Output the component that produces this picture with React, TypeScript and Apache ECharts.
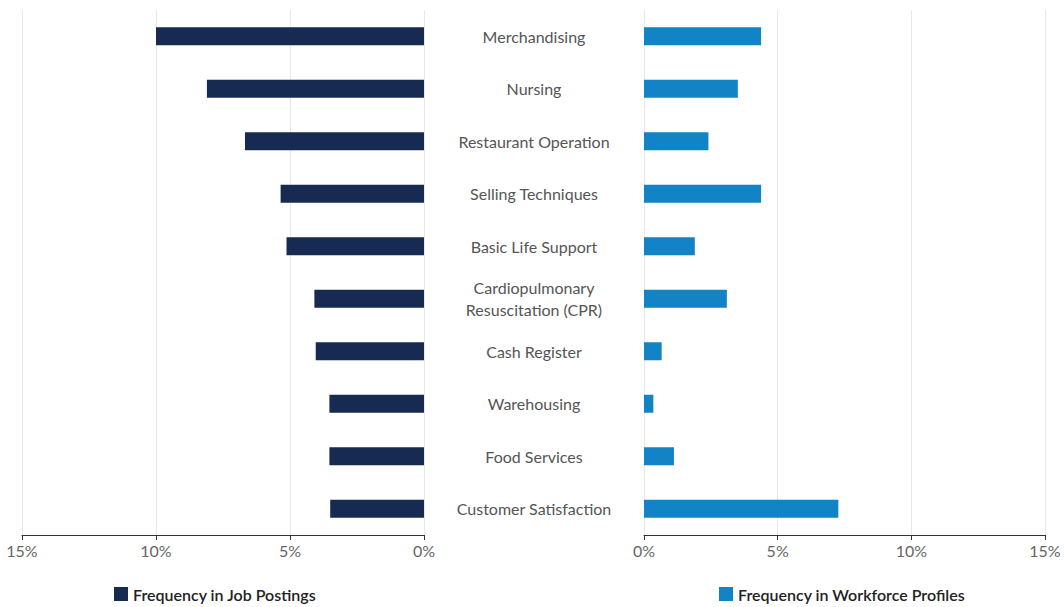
import React, { useEffect, useRef } from "react";
import * as echarts from "echarts";

const categories = [
  "Merchandising",
  "Nursing",
  "Restaurant Operation",
  "Selling Techniques",
  "Basic Life Support",
  "Cardiopulmonary\nResuscitation (CPR)",
  "Cash Register",
  "Warehousing",
  "Food Services",
  "Customer Satisfaction",
];
const jobPostings = [10.0, 8.1, 6.68, 5.35, 5.13, 4.09, 4.04, 3.53, 3.53, 3.5];
const workforceProfiles = [4.38, 3.51, 2.41, 4.38, 1.9, 3.1, 0.66, 0.35, 1.12, 7.27];
const xTicks = { min: 0, max: 15, interval: 5 };
const seriesNames = ["Frequency in Job Postings", "Frequency in Workforce Profiles"];

const FONT = "Lato, 'Open Sans', sans-serif";

export default function App() {
  const ref = useRef<HTMLDivElement>(null);
  useEffect(() => {
    document.body.style.margin = "0";
    const chart = echarts.init(ref.current!, null, { renderer: "svg" });
    const axisCommon = {
      type: "value",
      min: xTicks.min,
      max: xTicks.max,
      interval: xTicks.interval,
      axisLine: { show: true, lineStyle: { color: "#333", width: 1 } },
      axisTick: { show: true, length: 5, lineStyle: { color: "#333" } },
      axisLabel: {
        formatter: "{value}%",
        color: "#666",
        fontSize: 16,
        fontFamily: FONT,
        margin: 7,
      },
      splitLine: { show: true, lineStyle: { color: "#e8e8e8", width: 1 } },
    };
    const legendText = { color: "#222", fontSize: 16, fontWeight: 600, fontFamily: FONT };
    chart.setOption({
      animation: false,
      textStyle: { fontFamily: FONT },
      grid: [
        { left: 22, width: 402, top: 10, bottom: 72 },
        { left: 644, width: 401, top: 10, bottom: 72 },
      ],
      legend: [
        {
          data: [seriesNames[0]],
          left: 114,
          top: 586,
          padding: 0,
          icon: "rect",
          itemWidth: 14,
          itemHeight: 14,
          itemGap: 8,
          textStyle: legendText,
        },
        {
          data: [seriesNames[1]],
          left: 719,
          top: 586,
          padding: 0,
          icon: "rect",
          itemWidth: 14,
          itemHeight: 14,
          itemGap: 8,
          textStyle: legendText,
        },
      ],
      xAxis: [
        { ...axisCommon, gridIndex: 0, inverse: true },
        { ...axisCommon, gridIndex: 1 },
      ],
      yAxis: [
        {
          type: "category",
          gridIndex: 0,
          data: categories,
          inverse: true,
          axisLine: { show: false },
          axisTick: { show: false },
          axisLabel: { show: false },
        },
        {
          type: "category",
          gridIndex: 1,
          data: categories,
          inverse: true,
          axisLine: { show: false },
          axisTick: { show: false },
          axisLabel: {
            show: true,
            align: "center",
            margin: 110,
            color: "#555",
            fontSize: 16,
            lineHeight: 22,
            fontFamily: FONT,
          },
        },
      ],
      series: [
        {
          name: seriesNames[0],
          type: "bar",
          xAxisIndex: 0,
          yAxisIndex: 0,
          data: jobPostings,
          barWidth: 18,
          itemStyle: { color: "#172a52" },
        },
        {
          name: seriesNames[1],
          type: "bar",
          xAxisIndex: 1,
          yAxisIndex: 1,
          data: workforceProfiles,
          barWidth: 18,
          itemStyle: { color: "#1283c4" },
        },
      ],
    });
    return () => chart.dispose();
  }, []);
  return <div ref={ref} style={{ width: 1064, height: 607 }} />;
}
